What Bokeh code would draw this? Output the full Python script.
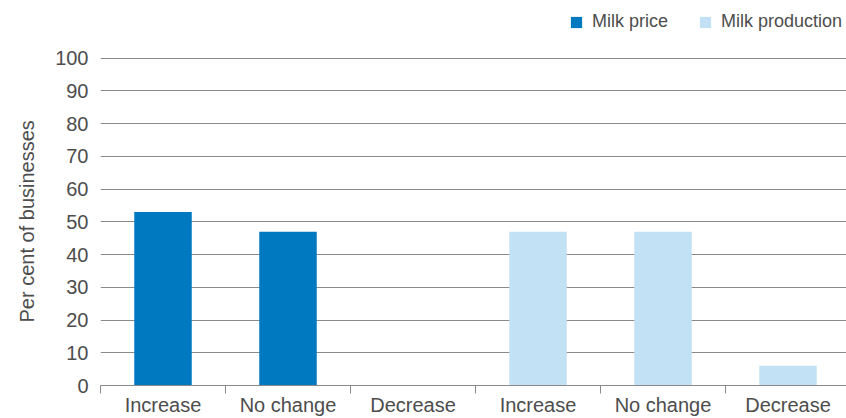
import numpy as np
from bokeh.plotting import figure
from bokeh.models import Range1d, FixedTicker, Legend, LegendItem, Title
from bokeh.embed import file_html
from bokeh.resources import INLINE

# ---- data ----
categories = ["Increase", "No change", "Decrease"]
series_names = ["Milk price", "Milk production"]
milk_price = [53, 47, 0]
milk_production = [47, 47, 6]
y_ticks = [0, 10, 20, 30, 40, 50, 60, 70, 80, 90, 100]
y_label = "Per cent of businesses"

BLUE = "#0079c1"
LIGHT = "#c3e1f5"
GRID = "#8a8a8a"
TEXT = "#4d4d4d"
FONT = "Liberation Sans"

n = len(categories)
x_price = np.arange(n) + 0.5
x_prod = np.arange(n) + n + 0.5

# y range extends above 100 to leave room for the legend inside the frame
p = figure(width=846, height=418, output_backend="svg", toolbar_location=None,
           x_range=Range1d(0, 5.968), y_range=Range1d(0, 117.6),
           min_border_left=100, min_border_right=0, min_border_top=0, min_border_bottom=31)
p.outline_line_color = None
p.background_fill_color = "white"
p.border_fill_color = "white"

r1 = p.vbar(x=x_price, top=milk_price, width=0.46, fill_color=BLUE, line_color=None)
r2 = p.vbar(x=x_prod, top=milk_production, width=0.46, fill_color=LIGHT, line_color=None)

# x axis
all_x = list(x_price) + list(x_prod)
labels = categories + categories
p.xaxis.ticker = FixedTicker(ticks=all_x, minor_ticks=list(range(0, 2 * n + 1)))
p.xaxis.major_label_overrides = {float(x): l for x, l in zip(all_x, labels)}
p.xaxis.major_tick_line_color = None
p.xaxis.major_tick_out = 0
p.xaxis.major_tick_in = 0
p.xaxis.minor_tick_line_color = GRID
p.xaxis.minor_tick_out = 8
p.xaxis.minor_tick_in = 0
p.xaxis.axis_line_color = GRID
p.xaxis.major_label_text_font = FONT
p.xaxis.major_label_text_font_size = "20px"
p.xaxis.major_label_text_color = TEXT
p.xaxis.major_label_standoff = 0
p.xgrid.grid_line_color = None

# y axis
p.yaxis.ticker = FixedTicker(ticks=y_ticks)
p.yaxis.axis_line_color = None
p.yaxis.major_tick_line_color = None
p.yaxis.minor_tick_line_color = None
p.yaxis.major_tick_out = 0
p.yaxis.major_tick_in = 0
p.yaxis.major_label_standoff = 12
p.yaxis.major_label_text_font = FONT
p.yaxis.major_label_text_font_size = "20px"
p.yaxis.major_label_text_color = TEXT
p.ygrid.grid_line_color = GRID
p.ygrid.grid_line_width = 1

ytitle = Title(text=y_label, align="left", offset=63, standoff=27, vertical_align="middle",
               text_font=FONT, text_font_size="20px", text_font_style="normal",
               text_color=TEXT)
p.add_layout(ytitle, "left")

legend = Legend(items=[LegendItem(label=series_names[0], renderers=[r1]),
                       LegendItem(label=series_names[1], renderers=[r2])],
                orientation="horizontal", location=(469, 353),
                glyph_width=14, glyph_height=14, label_standoff=9, spacing=30,
                padding=0, margin=0, border_line_color=None, background_fill_alpha=0,
                label_text_font=FONT, label_text_font_size="18px", label_text_color=TEXT)
p.add_layout(legend, "center")

open("out.html", "w").write(file_html(p, INLINE))
